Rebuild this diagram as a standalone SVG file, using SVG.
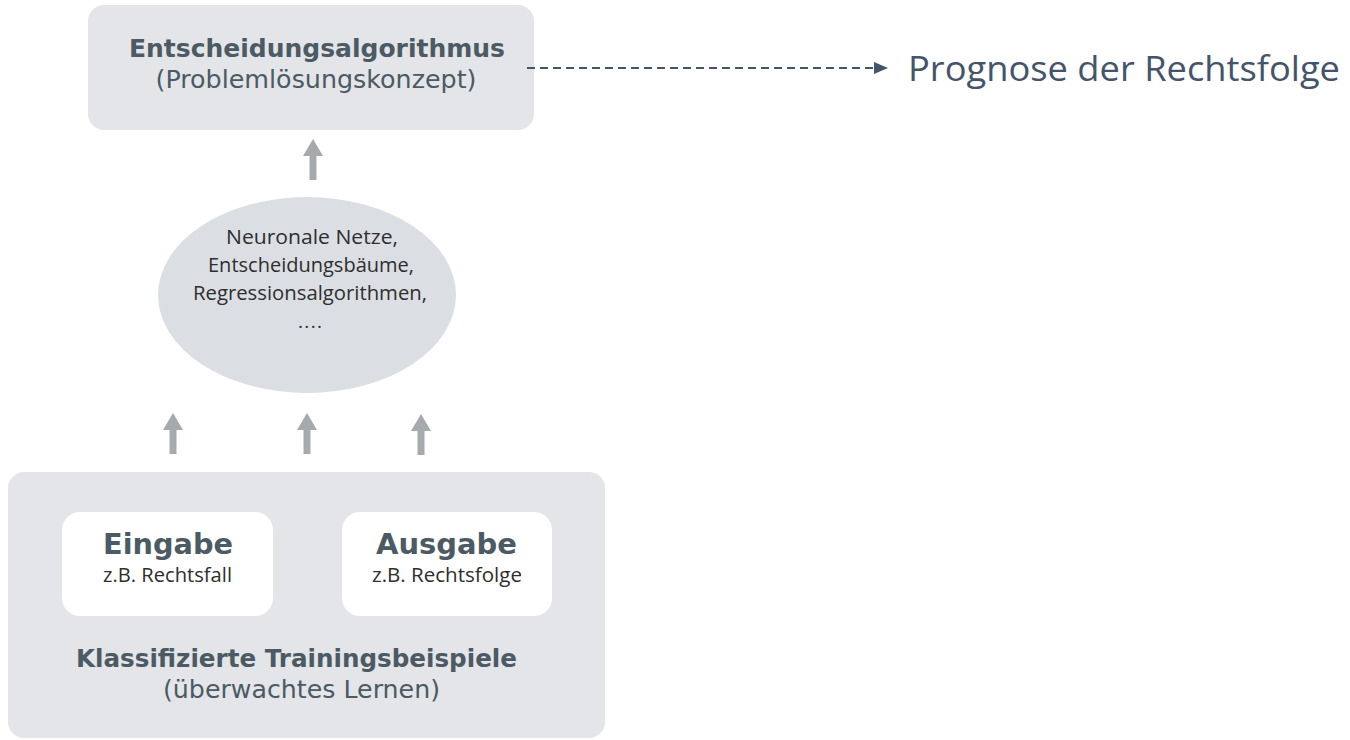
<svg xmlns="http://www.w3.org/2000/svg" width="1350" height="740" viewBox="0 0 1350 740">
<style>
.box{fill:#e4e5e8}
.inner{fill:#ffffff}
.ell{fill:#dbdfe3}
.title{font-family:"DejaVu Sans",Verdana,sans-serif;font-weight:bold;fill:#4b5a63;text-anchor:middle}
.sub{font-family:"DejaVu Sans",Verdana,sans-serif;fill:#4b5a63;text-anchor:middle}
.myr{font-family:"Open Sans","Liberation Sans",sans-serif;fill:#2e2e2e;text-anchor:middle}
.up{fill:#a6a9ad}
.prog{font-family:"Open Sans","Liberation Sans",sans-serif;fill:#44546a}
</style>
<defs>
<marker id="ah" markerWidth="14" markerHeight="12" refX="13" refY="6" orient="auto" markerUnits="userSpaceOnUse">
<path d="M0,0 L14,6 L0,12 Z" fill="#44546a"/>
</marker>
<path id="uparrow" d="M0,0 L10,17 L3.5,17 L3.5,41 L-3.5,41 L-3.5,17 L-10,17 Z"/>
</defs>

<g id="top">
<rect class="box" x="88" y="5" width="446" height="125" rx="16"/>
<text class="title" x="317" y="57" font-size="25" textLength="376" lengthAdjust="spacingAndGlyphs">Entscheidungsalgorithmus</text>
<text class="sub" x="316" y="88" font-size="25" textLength="321" lengthAdjust="spacingAndGlyphs">(Problemlösungskonzept)</text>
</g>

<g id="ellipse">
<ellipse class="ell" cx="307" cy="295" rx="149" ry="98"/>
<text class="myr" x="312" y="244" font-size="19.5" textLength="172" lengthAdjust="spacingAndGlyphs">Neuronale Netze,</text>
<text class="myr" x="311" y="272" font-size="19.5" textLength="206" lengthAdjust="spacingAndGlyphs">Entscheidungsbäume,</text>
<text class="myr" x="310" y="300" font-size="19.5" textLength="234" lengthAdjust="spacingAndGlyphs">Regressionsalgorithmen,</text>
<text class="myr" x="310" y="328" font-size="19" textLength="24" lengthAdjust="spacing">....</text>
</g>

<g id="bottom">
<rect class="box" x="8" y="472" width="597" height="266" rx="16"/>
<g id="eingabe">
<rect class="inner" x="62" y="512" width="211" height="104" rx="18"/>
<text class="title" x="168" y="554" font-size="28.5" textLength="130" lengthAdjust="spacingAndGlyphs">Eingabe</text>
<text class="myr" x="167.5" y="582" font-size="19.5" textLength="129" lengthAdjust="spacingAndGlyphs">z.B. Rechtsfall</text>
</g>
<g id="ausgabe">
<rect class="inner" x="342" y="512" width="210" height="104" rx="18"/>
<text class="title" x="446.5" y="554" font-size="28.5" textLength="141" lengthAdjust="spacingAndGlyphs">Ausgabe</text>
<text class="myr" x="447" y="582" font-size="19.5" textLength="150" lengthAdjust="spacingAndGlyphs">z.B. Rechtsfolge</text>
</g>
<text class="title" x="296.5" y="667" font-size="24.5" textLength="441" lengthAdjust="spacingAndGlyphs">Klassifizierte Trainingsbeispiele</text>
<text class="sub" x="301.5" y="698" font-size="25" textLength="277" lengthAdjust="spacingAndGlyphs">(überwachtes Lernen)</text>
</g>

<g id="prognose">
<text class="prog" x="908" y="81" font-size="35" textLength="432" lengthAdjust="spacingAndGlyphs">Prognose der Rechtsfolge</text>
</g>

<g id="connectors">
<line x1="527" y1="68" x2="887" y2="68" stroke="#44546a" stroke-width="2.2" stroke-dasharray="8,5" marker-end="url(#ah)"/>
<use href="#uparrow" class="up" x="313" y="139"/>
<use href="#uparrow" class="up" x="173" y="413"/>
<use href="#uparrow" class="up" x="307" y="413"/>
<use href="#uparrow" class="up" x="421" y="414"/>
</g>
</svg>
